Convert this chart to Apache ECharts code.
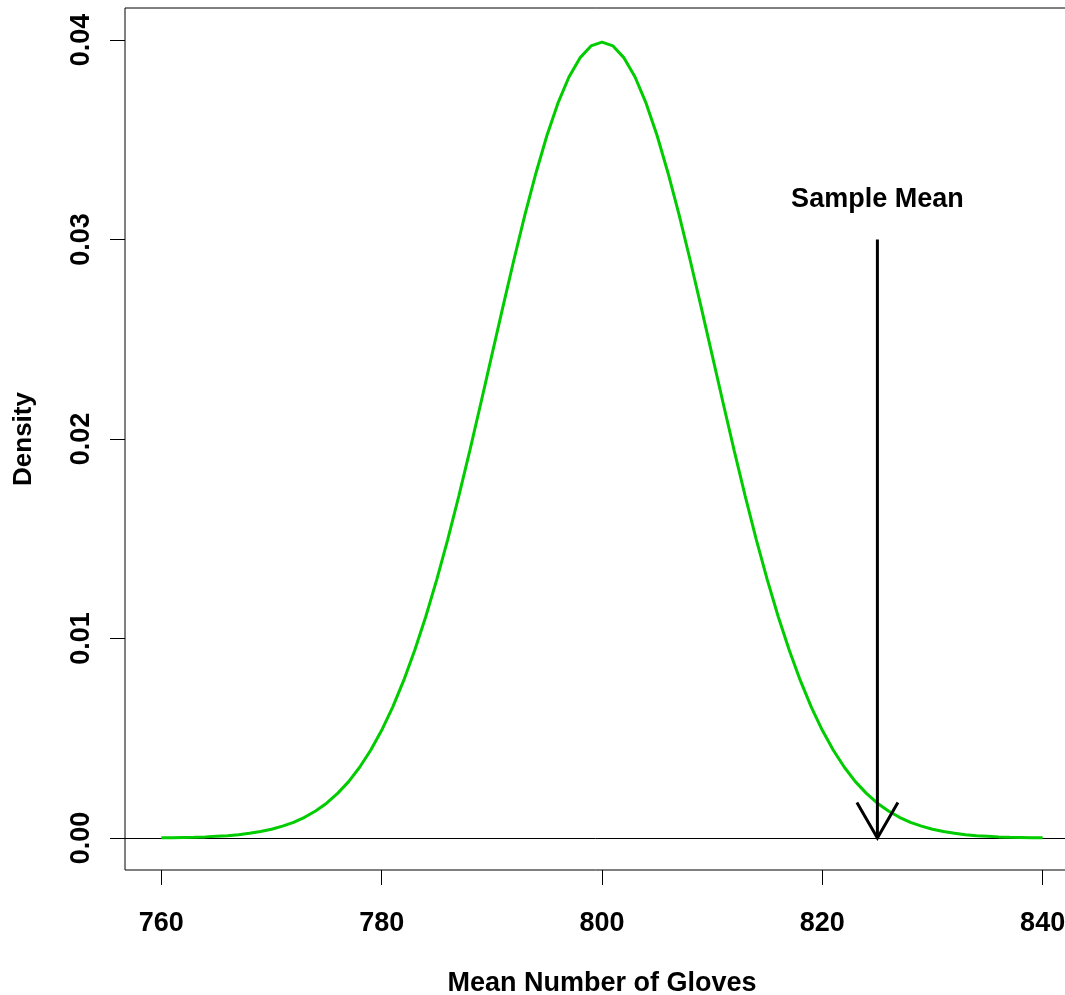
<!DOCTYPE html>
<html>
<head>
<meta charset="utf-8">
<script src="https://cdn.jsdelivr.net/npm/echarts@6/dist/echarts.min.js"></script>
<style>
  html, body { margin: 0; padding: 0; background: #fff; }
  #chart { width: 1065px; height: 995px; }
</style>
</head>
<body>
<div id="chart"></div>
<script>
// density curve, x = 760..840 step 1
var gloves = [
  760, 761, 762, 763, 764, 765, 766, 767, 768, 769,
  770, 771, 772, 773, 774, 775, 776, 777, 778, 779,
  780, 781, 782, 783, 784, 785, 786, 787, 788, 789,
  790, 791, 792, 793, 794, 795, 796, 797, 798, 799,
  800, 801, 802, 803, 804, 805, 806, 807, 808, 809,
  810, 811, 812, 813, 814, 815, 816, 817, 818, 819,
  820, 821, 822, 823, 824, 825, 826, 827, 828, 829,
  830, 831, 832, 833, 834, 835, 836, 837, 838, 839, 840
];
var density = [
  0.00001, 0.00002, 0.00003, 0.00004, 0.00006, 0.00009, 0.00012, 0.00017, 0.00024, 0.00033,
  0.00044, 0.00060, 0.00079, 0.00104, 0.00136, 0.00175, 0.00224, 0.00283, 0.00355, 0.00440,
  0.00540, 0.00656, 0.00790, 0.00941, 0.01109, 0.01295, 0.01497, 0.01714, 0.01942, 0.02179,
  0.02420, 0.02661, 0.02897, 0.03123, 0.03332, 0.03521, 0.03683, 0.03814, 0.03910, 0.03970,
  0.03989, 0.03970, 0.03910, 0.03814, 0.03683, 0.03521, 0.03332, 0.03123, 0.02897, 0.02661,
  0.02420, 0.02179, 0.01942, 0.01714, 0.01497, 0.01295, 0.01109, 0.00941, 0.00790, 0.00656,
  0.00540, 0.00440, 0.00355, 0.00283, 0.00224, 0.00175, 0.00136, 0.00104, 0.00079, 0.00060,
  0.00044, 0.00033, 0.00024, 0.00017, 0.00012, 0.00009, 0.00006, 0.00004, 0.00003, 0.00002, 0.00001
];
var xTicks = [760, 780, 800, 820, 840];
var yTicks = [0, 0.01, 0.02, 0.03, 0.04];

// arrow: x, from y, to y, label y
var sampleMean = [[825, 0.03, 0, 0.032]];
var sampleLabel = "Sample Mean";

var font = "'Liberation Sans', Arial, Helvetica, sans-serif";

var chartDom = document.getElementById("chart");
var myChart = echarts.init(chartDom);
var option;

option = {
  animation: false,
  grid: {
    left: 125,
    top: 8,
    width: 954,
    height: 862,
    outerBoundsMode: "none",
    containLabel: false,
    show: true,
    borderColor: "#000",
    borderWidth: 1,
    backgroundColor: "transparent"
  },
  xAxis: {
    type: "value",
    min: 756.7,
    max: 843.3,
    name: "Mean Number of Gloves",
    nameLocation: "middle",
    nameGap: 100,
    nameTextStyle: {
      color: "#000",
      fontFamily: font,
      fontWeight: "bold",
      fontSize: 27
    },
    splitLine: { show: false },
    axisLine: { show: false, onZero: false },
    axisTick: {
      show: true,
      inside: false,
      length: 15,
      customValues: xTicks,
      lineStyle: { color: "#000", width: 1 }
    },
    axisLabel: {
      customValues: xTicks,
      margin: 40,
      color: "#000",
      fontFamily: font,
      fontWeight: "bold",
      fontSize: 27
    }
  },
  yAxis: {
    type: "value",
    min: -0.0016,
    max: 0.0416,
    name: "Density",
    nameLocation: "middle",
    nameGap: 88,
    nameRotate: 90,
    nameTextStyle: {
      color: "#000",
      fontFamily: font,
      fontWeight: "bold",
      fontSize: 26
    },
    splitLine: { show: false },
    axisLine: { show: false, onZero: false },
    axisTick: {
      show: true,
      inside: false,
      length: 15,
      customValues: yTicks,
      lineStyle: { color: "#000", width: 1 }
    },
    axisLabel: {
      customValues: yTicks,
      rotate: 90,
      margin: 30,
      color: "#000",
      fontFamily: font,
      fontWeight: "bold",
      fontSize: 27,
      formatter: function (value) {
        return value.toFixed(2);
      }
    }
  },
  series: [
    {
      type: "line",
      data: gloves.map(function (x, i) {
        return [x, density[i]];
      }),
      symbol: "none",
      smooth: false,
      lineStyle: { color: "#00cc00", width: 3 },
      z: 3,
      markLine: {
        silent: true,
        symbol: "none",
        label: { show: false },
        lineStyle: { color: "#000", width: 1, type: "solid" },
        data: [{ yAxis: 0 }],
        z: 2
      }
    },
    {
      type: "custom",
      data: sampleMean,
      z: 4,
      renderItem: function (params, api) {
        var x = api.value(0);
        var tail = api.coord([x, api.value(1)]);
        var tip = api.coord([x, api.value(2)]);
        var lab = api.coord([x, api.value(3)]);
        var len = 41;
        var ang = Math.PI / 6;
        var style = { stroke: "#000", lineWidth: 3, fill: null };
        return {
          type: "group",
          children: [
            {
              type: "line",
              shape: { x1: tail[0], y1: tail[1], x2: tip[0], y2: tip[1] },
              style: style
            },
            {
              type: "polyline",
              shape: {
                points: [
                  [tip[0] - len * Math.sin(ang), tip[1] - len * Math.cos(ang)],
                  [tip[0], tip[1]],
                  [tip[0] + len * Math.sin(ang), tip[1] - len * Math.cos(ang)]
                ]
              },
              style: style
            },
            {
              type: "text",
              x: lab[0],
              y: lab[1],
              style: {
                text: sampleLabel,
                fill: "#000",
                font: "bold 27px " + font,
                align: "center",
                verticalAlign: "middle"
              }
            }
          ]
        };
      }
    }
  ]
};

option && myChart.setOption(option);
</script>
</body>
</html>
